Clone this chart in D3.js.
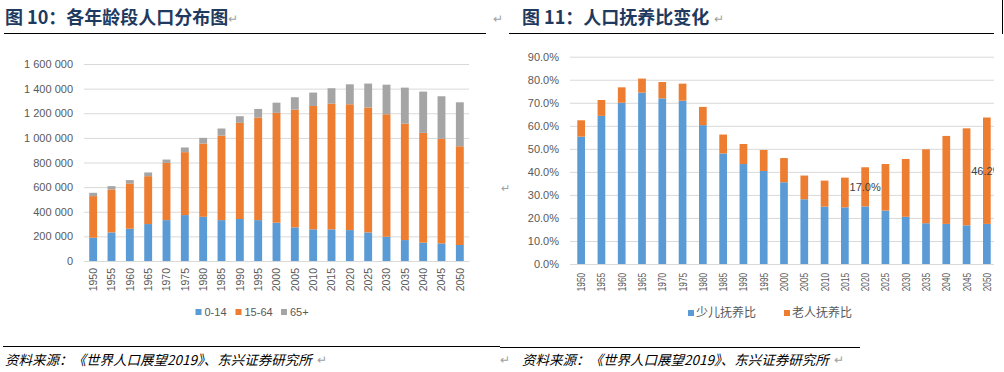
<!DOCTYPE html>
<html>
<head>
<meta charset="utf-8">
<script src="https://cdn.jsdelivr.net/npm/d3@7"></script>
<style>
  body { margin: 0; background: #fff; }
  svg { display: block; }
  .tick text { fill: #595959; }
</style>
</head>
<body>
<div class="canvas"></div>
<script>
// ---- data ----
const years = ["1950","1955","1960","1965","1970","1975","1980","1985","1990","1995","2000",
               "2005","2010","2015","2020","2025","2030","2035","2040","2045","2050"]

// chart 10: population by age group (thousands)
const age0_14  = [189000,232000,262000,300000,332000,373000,359000,332000,341000,332000,311000,
                  273000,257000,257000,251000,232000,197000,170000,149000,143000,130000]
const age15_64 = [338000,349000,368000,389000,465000,511000,595000,687000,781000,833000,892000,
                  957000,1002000,1021000,1022000,1014000,995000,946000,892000,849000,802000]
const age65    = [27000,27000,27000,30000,27000,38000,46000,57000,54000,70000,83000,
                  100000,109000,125000,162000,195000,240000,292000,335000,346000,357000]
const ageKeys  = ["0-14", "15-64", "65+"]
const popTicks = [0,200000,400000,600000,800000,1000000,1200000,1400000,1600000]

// chart 11: dependency ratio (%)
const childRatio = [55.3,64.3,70.0,74.4,71.9,70.9,60.3,48.0,43.4,40.4,35.5,
                    28.1,24.9,24.6,25.0,23.2,20.5,17.7,17.4,16.8,17.4]
const elderRatio = [7.1,6.9,6.7,6.1,7.1,7.4,7.9,8.2,8.7,9.1,10.5,
                    10.3,11.3,12.9,17.0,20.2,25.1,32.1,38.2,42.1,46.2]
const ratioKeys  = ["少儿抚养比", "老人抚养比"]
const ratioTicks = [0,10,20,30,40,50,60,70,80,90]
const labelYears = ["2020", "2050"]

const colors = ["#5B9BD5", "#ED7D31", "#A5A5A5"]

const svg = d3.select(".canvas")
  .append("svg")
  .attr("width", 1004)
  .attr("height", 372)

const numFont = "'Liberation Sans', Arial, sans-serif"
const cjkFont = "'Noto Sans CJK SC', sans-serif"

// ---- headings / footers ----
function heading(x, text, lineX1, lineX2) {
  svg.append("text")
    .attr("x", x).attr("y", 24)
    .attr("font-family", cjkFont)
    .attr("font-weight", "bold")
    .attr("font-size", 18)
    .attr("fill", "#1f3a5f")
    .text(text)
  svg.append("line")
    .attr("x1", lineX1).attr("x2", lineX2)
    .attr("y1", 33.5).attr("y2", 33.5)
    .attr("stroke", "#000").attr("stroke-width", 1)
}
function mark(x, y, size) {
  svg.append("text")
    .attr("x", x).attr("y", y)
    .attr("font-family", numFont)
    .attr("font-size", size || 12)
    .attr("fill", "#a0a0a0")
    .text("↵")
}

heading(5, "图 10：各年龄段人口分布图", 4, 486)
mark(228, 23)
mark(493, 23)
heading(522, "图 11：人口抚养比变化", 509, 994)
mark(714, 23)
mark(501, 192, 11)

const source = "资料来源：《世界人口展望2019》、东兴证券研究所"
svg.append("line").attr("x1", 3).attr("x2", 500).attr("y1", 346.5).attr("y2", 346.5).attr("stroke", "#000")
svg.append("line").attr("x1", 500).attr("x2", 860).attr("y1", 347.5).attr("y2", 347.5).attr("stroke", "#000")
svg.append("text").attr("x", 5).attr("y", 365)
  .attr("font-family", cjkFont).attr("font-size", 13.5).attr("font-style", "italic").attr("fill", "#000")
  .text(source)
svg.append("text").attr("x", 522).attr("y", 365)
  .attr("font-family", cjkFont).attr("font-size", 13.5).attr("font-style", "italic").attr("fill", "#000")
  .text(source)
mark(317, 364)
mark(500, 364)
mark(834, 364)

// ---- chart 10 ----
const pop = years.map((y, i) => ({year: y, "0-14": age0_14[i], "15-64": age15_64[i], "65+": age65[i]}))

const x1 = d3.scaleBand().domain(years).range([84, 469]).paddingInner(0.57).paddingOuter(0.285)
const y1 = d3.scaleLinear().domain([0, 1600000]).range([261, 64])
const spaceFmt = d3.formatLocale({decimal: ".", thousands: " ", grouping: [3], currency: ["", ""]}).format(",")

const g1 = svg.append("g")

const yAxis1 = g1.append("g")
  .attr("transform", "translate(84,0)")
  .call(d3.axisLeft(y1).tickValues(popTicks).tickSize(-385).tickPadding(11).tickFormat(spaceFmt))
yAxis1.select(".domain").remove()
yAxis1.selectAll(".tick line").attr("stroke", "#d9d9d9")
yAxis1.selectAll(".tick text").attr("font-family", numFont).attr("font-size", 11)

const stack1 = d3.stack().keys(ageKeys)(pop)
g1.selectAll(".layer")
  .data(stack1)
  .enter().append("g")
  .attr("fill", (d, i) => colors[i])
  .selectAll("rect")
  .data(d => d)
  .enter().append("rect")
  .attr("x", d => x1(d.data.year))
  .attr("width", x1.bandwidth())
  .attr("y", d => y1(d[1]))
  .attr("height", d => y1(d[0]) - y1(d[1]))

const xAxis1 = g1.append("g")
  .attr("transform", "translate(0,261)")
  .call(d3.axisBottom(x1).tickSize(0).tickPadding(0))
xAxis1.select(".domain").attr("stroke", "#d9d9d9")
xAxis1.selectAll(".tick text")
  .attr("font-family", numFont).attr("font-size", 10.5)
  .attr("transform", "translate(0,7) rotate(-90)")
  .attr("text-anchor", "end")
  .attr("dy", "0.35em")
  .attr("y", 0)

const legend1 = g1.selectAll(".leg1").data(ageKeys).enter().append("g")
  .attr("transform", (d, i) => `translate(${[195.5, 235.5, 281][i]},309)`)
legend1.append("rect").attr("width", 6).attr("height", 6).attr("fill", (d, i) => colors[i])
legend1.append("text").attr("x", 9).attr("y", 3).attr("dy", "0.35em")
  .attr("font-family", numFont).attr("font-size", 11).attr("fill", "#595959")
  .text(d => d)

// ---- chart 11 ----
const ratio = years.map((y, i) => ({year: y, "少儿抚养比": childRatio[i], "老人抚养比": elderRatio[i]}))

const x2 = d3.scaleBand().domain(years).range([571, 997]).paddingInner(0.62).paddingOuter(0.31)
const y2 = d3.scaleLinear().domain([0, 90]).range([264, 56.7])

svg.append("clipPath").attr("id", "clipR")
  .append("rect").attr("x", 500).attr("y", 40).attr("width", 494).attr("height", 300)

const g2 = svg.append("g").attr("clip-path", "url(#clipR)")

const yAxis2 = g2.append("g")
  .attr("transform", "translate(570,0)")
  .call(d3.axisLeft(y2).tickValues(ratioTicks).tickSize(-427).tickPadding(11).tickFormat(d => d3.format(".1f")(d) + "%"))
yAxis2.select(".domain").remove()
yAxis2.selectAll(".tick line").attr("stroke", "#d9d9d9")
yAxis2.selectAll(".tick text").attr("font-family", numFont).attr("font-size", 11)

const stack2 = d3.stack().keys(ratioKeys)(ratio)
g2.selectAll(".layer2")
  .data(stack2)
  .enter().append("g")
  .attr("fill", (d, i) => colors[i])
  .selectAll("rect")
  .data(d => d)
  .enter().append("rect")
  .attr("x", d => x2(d.data.year))
  .attr("width", x2.bandwidth())
  .attr("y", d => y2(d[1]))
  .attr("height", d => y2(d[0]) - y2(d[1]))

// data labels on the elder segment
g2.selectAll(".dlabel")
  .data(stack2[1].filter(d => labelYears.includes(d.data.year)))
  .enter().append("text")
  .attr("x", d => x2(d.data.year) + x2.bandwidth() / 2)
  .attr("y", d => y2((d[0] + d[1]) / 2))
  .attr("dy", "0.35em")
  .attr("text-anchor", "middle")
  .attr("font-family", numFont).attr("font-size", 11).attr("fill", "#404040")
  .text(d => d3.format(".1f")(d[1] - d[0]) + "%")

const xAxis2 = g2.append("g")
  .attr("transform", "translate(0,264)")
  .call(d3.axisBottom(x2).tickSize(0).tickPadding(0))
xAxis2.select(".domain").attr("stroke", "#d9d9d9")
xAxis2.selectAll(".tick text")
  .attr("font-family", numFont).attr("font-size", 10.5)
  .attr("transform", "translate(0,9) rotate(-90) scale(0.78,1.1)")
  .attr("text-anchor", "end")
  .attr("dy", "0.35em")
  .attr("y", 0)

const legend2 = g2.selectAll(".leg2").data(ratioKeys).enter().append("g")
  .attr("transform", (d, i) => `translate(${[688, 784][i]},310)`)
legend2.append("rect").attr("width", 6).attr("height", 6).attr("fill", (d, i) => colors[i])
legend2.append("text").attr("x", 8).attr("y", 3).attr("dy", "0.35em")
  .attr("font-family", cjkFont).attr("font-size", 12).attr("fill", "#595959")
  .text(d => d)

svg.append("line").attr("x1", 1002.5).attr("x2", 1002.5).attr("y1", 0).attr("y2", 34)
  .attr("stroke", "#000")
</script>
</body>
</html>
